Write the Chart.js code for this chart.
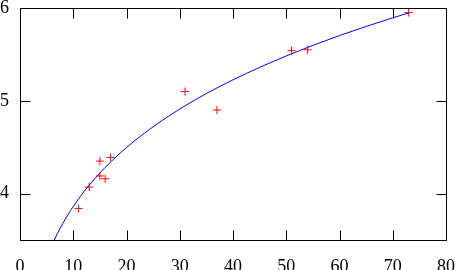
<!DOCTYPE html>
<html>
<head>
<meta charset="utf-8">
<script src="https://cdn.jsdelivr.net/npm/chart.js@4/dist/chart.umd.min.js"></script>
<style>
html,body{margin:0;padding:0;background:#fff;}
#c{display:block;}
</style>
</head>
<body>
<canvas id="c" width="458" height="270"></canvas>
<script>
// Fitted curve (smoothed estimates)
const curveX = [6.4, 7, 8, 9, 10, 11, 12, 13, 14, 15, 16, 18, 20, 22, 25, 28, 31, 35, 40, 45, 50, 55, 60, 65, 70, 73];
const curveY = [3.496, 3.567, 3.674, 3.772, 3.861, 3.943, 4.020, 4.091, 4.158, 4.222, 4.282, 4.394, 4.496, 4.591, 4.720, 4.838, 4.946, 5.078, 5.226, 5.360, 5.483, 5.597, 5.703, 5.801, 5.894, 5.947];
// Measured points
const pointX = [11, 13, 15, 15, 16, 17, 31, 37, 51, 54, 73];
const pointY = [3.84, 4.07, 4.35, 4.19, 4.16, 4.39, 5.10, 4.90, 5.54, 5.55, 5.95];
// Axis ticks
const xTicks = [0, 10, 20, 30, 40, 50, 60, 70, 80];
const yTicks = [4, 5, 6];

const curveData = curveX.map((x, i) => ({x: x, y: curveY[i]}));
const pointData = pointX.map((x, i) => ({x: x, y: pointY[i]}));

const frameAndTicks = {
  id: 'frameAndTicks',
  afterDraw(chart) {
    const ctx = chart.ctx;
    const a = chart.chartArea;
    const L = Math.round(a.left) + 0.5, R = Math.round(a.right) + 0.5;
    const T = Math.round(a.top) + 0.5, B = Math.round(a.bottom) + 0.5;
    const len = 10;
    ctx.save();
    ctx.strokeStyle = '#000';
    ctx.lineWidth = 1;
    ctx.beginPath();
    const xs = chart.scales.x;
    xs.ticks.forEach(t => {
      const p = Math.round(xs.getPixelForValue(t.value)) + 0.5;
      if (p > L + 1 && p < R - 1) {
        ctx.moveTo(p, B); ctx.lineTo(p, B - len);
        ctx.moveTo(p, T); ctx.lineTo(p, T + len);
      }
    });
    const ys = chart.scales.y;
    ys.ticks.forEach(t => {
      const p = Math.round(ys.getPixelForValue(t.value)) + 0.5;
      if (p > T + 1 && p < B - 1) {
        ctx.moveTo(L, p); ctx.lineTo(L + len, p);
        ctx.moveTo(R, p); ctx.lineTo(R - len, p);
      }
    });
    ctx.stroke();
    ctx.strokeRect(L, T, R - L, B - T);
    ctx.restore();
  }
};

const labelFont = {family: "'Liberation Serif', 'Times New Roman', serif", size: 18};

function draw() {
  new Chart(document.getElementById('c'), {
    type: 'scatter',
    data: {
      datasets: [
        {
          data: curveData,
          showLine: true,
          borderColor: '#0000ff',
          borderWidth: 1,
          pointRadius: 0,
          cubicInterpolationMode: 'monotone',
          fill: false
        },
        {
          data: pointData,
          showLine: false,
          pointStyle: 'cross',
          pointRadius: 4,
          pointBorderColor: '#ff0000',
          pointBorderWidth: 1,
          borderColor: '#ff0000',
          backgroundColor: '#ff0000'
        }
      ]
    },
    options: {
      responsive: false,
      animation: false,
      devicePixelRatio: 1,
      layout: {padding: {top: 8, right: 12, left: 0, bottom: 0}},
      plugins: {legend: {display: false}, tooltip: {enabled: false}},
      scales: {
        x: {
          type: 'linear',
          min: 0, max: 80,
          afterBuildTicks: s => { s.ticks = xTicks.map(v => ({value: v})); },
          afterFit: s => { s.height = 30; s.paddingLeft = 0; s.paddingRight = 0; },
          grid: {display: false, drawTicks: false},
          border: {display: false},
          ticks: {
            color: '#000',
            padding: 16,
            maxRotation: 0,
            autoSkip: false,
            font: labelFont,
            callback: v => String(v)
          }
        },
        y: {
          type: 'linear',
          min: 3.5, max: 6,
          afterBuildTicks: s => { s.ticks = yTicks.map(v => ({value: v})); },
          afterFit: s => { s.width = 20; s.paddingTop = 0; s.paddingBottom = 0; },
          grid: {display: false, drawTicks: false},
          border: {display: false},
          ticks: {
            color: '#000',
            padding: 11,
            autoSkip: false,
            font: labelFont,
            callback: v => String(v)
          }
        }
      }
    },
    plugins: [frameAndTicks]
  });
}

if (document.fonts && document.fonts.load) {
  document.fonts.load("18px 'Liberation Serif'").then(draw, draw);
} else {
  draw();
}
</script>
</body>
</html>
